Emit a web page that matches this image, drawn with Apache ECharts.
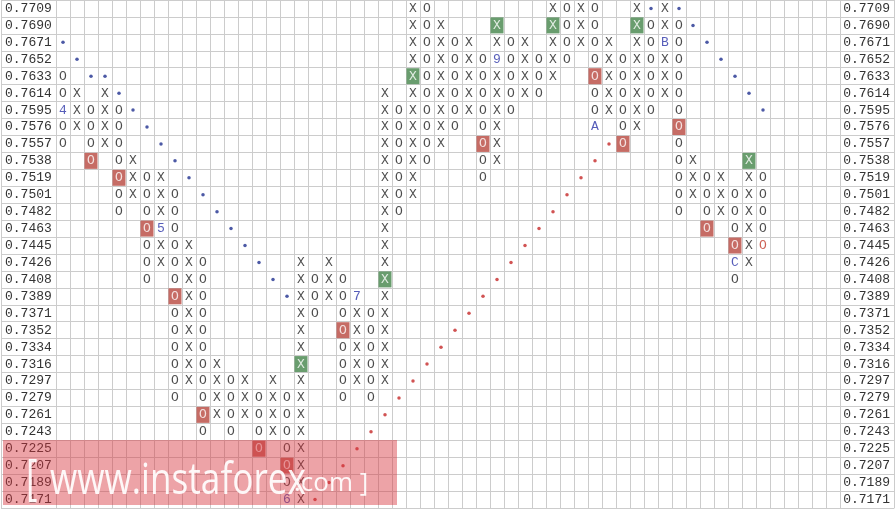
<!DOCTYPE html>
<html><head><meta charset="utf-8">
<script src="https://cdn.jsdelivr.net/npm/echarts@6/dist/echarts.min.js"></script>
<style>html,body{margin:0;padding:0;background:#fff;overflow:hidden}#c{width:895px;height:509px}</style>
</head><body><div id="c"></div>
<script>
// Price levels (tick labels), top to bottom
const prices = ['0.7709','0.7690','0.7671','0.7652','0.7633','0.7614','0.7595','0.7576','0.7557','0.7538','0.7519','0.7501','0.7482','0.7463','0.7445','0.7426','0.7408','0.7389','0.7371','0.7352','0.7334','0.7316','0.7297','0.7279','0.7261','0.7243','0.7225','0.7207','0.7189','0.7171'];
const columnCount = 56;
// Point & figure columns: kind, top price, bottom price
const colKind = ['O','X','O','X','O','X','O','X','O','X','O','X','O','X','O','X','O','X','O','X','O','X','O','X','O','X','O','X','O','X','O','X','O','X','O','X','O','X','O','X','O','X','O','X','O','X','O','X','O','X','O'];
const colTop = ['0.7633','0.7614','0.7595','0.7614','0.7595','0.7538','0.7519','0.7519','0.7501','0.7445','0.7426','0.7316','0.7297','0.7297','0.7279','0.7297','0.7279','0.7426','0.7408','0.7426','0.7408','0.7389','0.7371','0.7614','0.7595','0.7709','0.7709','0.7690','0.7671','0.7671','0.7652','0.7690','0.7671','0.7671','0.7652','0.7709','0.7709','0.7709','0.7709','0.7671','0.7652','0.7709','0.7690','0.7709','0.7690','0.7538','0.7519','0.7519','0.7501','0.7538','0.7519'];
const colBottom = ['0.7557','0.7576','0.7538','0.7557','0.7482','0.7501','0.7408','0.7426','0.7279','0.7297','0.7243','0.7261','0.7243','0.7261','0.7225','0.7243','0.7171','0.7171','0.7371','0.7389','0.7279','0.7297','0.7279','0.7297','0.7482','0.7501','0.7538','0.7557','0.7576','0.7595','0.7519','0.7538','0.7595','0.7614','0.7614','0.7633','0.7652','0.7671','0.7576','0.7595','0.7557','0.7576','0.7595','0.7614','0.7482','0.7501','0.7463','0.7482','0.7408','0.7426','0.7445'];
// Month markers [column, price, label]
const monthMarks = [[0,'0.7595','4'],[7,'0.7463','5'],[16,'0.7171','6'],[21,'0.7389','7'],[31,'0.7652','9'],[38,'0.7576','A'],[43,'0.7671','B'],[48,'0.7426','C']];
// Highlighted boxes [column, price]
const redBoxes = [[2,'0.7538'],[4,'0.7519'],[6,'0.7463'],[8,'0.7389'],[10,'0.7261'],[14,'0.7225'],[16,'0.7207'],[20,'0.7352'],[30,'0.7557'],[38,'0.7633'],[40,'0.7557'],[44,'0.7576'],[46,'0.7463'],[48,'0.7445']];
const greenBoxes = [[17,'0.7316'],[23,'0.7408'],[25,'0.7633'],[31,'0.7690'],[35,'0.7690'],[41,'0.7690'],[49,'0.7538']];
const lastBox = [[50,'0.7445']];
// Trend line dots [column, price]
const blueDots = [[0,'0.7671'],[1,'0.7652'],[2,'0.7633'],[3,'0.7633'],[4,'0.7614'],[5,'0.7595'],[6,'0.7576'],[7,'0.7557'],[8,'0.7538'],[9,'0.7519'],[10,'0.7501'],[11,'0.7482'],[12,'0.7463'],[13,'0.7445'],[14,'0.7426'],[15,'0.7408'],[16,'0.7389'],[42,'0.7709'],[44,'0.7709'],[45,'0.7690'],[46,'0.7671'],[47,'0.7652'],[48,'0.7633'],[49,'0.7614'],[50,'0.7595']];
const redDots = [[39,'0.7557'],[38,'0.7538'],[37,'0.7519'],[36,'0.7501'],[35,'0.7482'],[34,'0.7463'],[33,'0.7445'],[32,'0.7426'],[31,'0.7408'],[30,'0.7389'],[29,'0.7371'],[28,'0.7352'],[27,'0.7334'],[26,'0.7316'],[25,'0.7297'],[24,'0.7279'],[23,'0.7261'],[22,'0.7243'],[21,'0.7225'],[20,'0.7207'],[19,'0.7189'],[18,'0.7171']];

const rowOf = p => prices.indexOf(p);
const key = (c, p) => c + '_' + p;
const special = new Set();
[...monthMarks, ...redBoxes, ...greenBoxes, ...lastBox].forEach(d => special.add(key(d[0], d[1])));
const plain = [];
colKind.forEach((k, c) => {
  for (let r = rowOf(colTop[c]); r <= rowOf(colBottom[c]); r++) {
    if (!special.has(key(c, prices[r]))) plain.push([c, r, k]);
  }
});
const kindAt = (c) => colKind[c];

const FONT = 'Liberation Mono';
const SYM_FONT = 'Liberation Mono';
const gridColor = '#cccccc';
const cats = Array.from({length: columnCount}, (_, i) => String(i));

function textSeries(data, color, extra) {
  return Object.assign({
    type: 'scatter', xAxisIndex: 0, yAxisIndex: 0,
    data: data, symbol: 'rect', symbolSize: 1,
    itemStyle: {color: 'rgba(0,0,0,0)'},
    label: {show: true, position: 'inside', formatter: p => p.value[2], color: color,
      fontFamily: SYM_FONT, fontSize: 13},
    silent: true, animation: false, z: 3
  }, extra || {});
}

const chart = echarts.init(document.getElementById('c'), null, {renderer: 'canvas'});
chart.setOption({
  animation: false,
  backgroundColor: '#ffffff',
  grid: [
    {left: 56, right: 55, top: -2, bottom: 1},
    {left: 1, width: 55, top: -2, bottom: 1},
    {left: 840, width: 54, top: -2, bottom: 1}
  ],
  xAxis: [
    {type: 'category', gridIndex: 0, data: cats, boundaryGap: true,
      axisLine: {show: false}, axisTick: {show: false}, axisLabel: {show: false},
      splitLine: {show: true, interval: 0, lineStyle: {color: gridColor, width: 1}}},
    {type: 'category', gridIndex: 1, data: ['a'], show: false},
    {type: 'category', gridIndex: 2, data: ['a'], show: false}
  ],
  yAxis: [
    {type: 'category', gridIndex: 0, data: prices, inverse: true, boundaryGap: true,
      axisLine: {show: false}, axisTick: {show: false}, axisLabel: {show: false},
      splitLine: {show: true, interval: 0, lineStyle: {color: gridColor, width: 1}}},
    {type: 'category', gridIndex: 1, data: prices, inverse: true, position: 'left',
      axisLine: {show: true, onZero: false, lineStyle: {color: gridColor}}, axisTick: {show: false},
      axisLabel: {inside: true, margin: 4, interval: 0, fontFamily: FONT, fontSize: 13, color: '#333'},
      splitLine: {show: true, interval: 0, lineStyle: {color: gridColor, width: 1}}},
    {type: 'category', gridIndex: 2, data: prices, inverse: true, position: 'right',
      axisLine: {show: true, onZero: false, lineStyle: {color: gridColor}}, axisTick: {show: false},
      axisLabel: {inside: true, margin: 4, interval: 0, fontFamily: FONT, fontSize: 13, color: '#333'},
      splitLine: {show: true, interval: 0, lineStyle: {color: gridColor, width: 1}}}
  ],
  series: [
    textSeries(plain, '#1e1e1e'),
    textSeries(monthMarks.map(d => [d[0], rowOf(d[1]), d[2]]), '#2c35a8'),
    textSeries(lastBox.map(d => [d[0], rowOf(d[1]), kindAt(d[0])]), '#c0392b'),
    textSeries(redBoxes.map(d => [d[0], rowOf(d[1]), kindAt(d[0])]), '#ffffff',
      {symbolSize: [13, 16], itemStyle: {color: '#b8473f'}}),
    textSeries(greenBoxes.map(d => [d[0], rowOf(d[1]), kindAt(d[0])]), '#ffffff',
      {symbolSize: [13, 16], itemStyle: {color: '#44854a'}}),
    {type: 'scatter', data: blueDots.map(d => [d[0], rowOf(d[1])]), symbol: 'circle', symbolSize: 3.5,
      itemStyle: {color: '#1f2f8f'}, silent: true, z: 3},
    {type: 'scatter', data: redDots.map(d => [d[0], rowOf(d[1])]), symbol: 'circle', symbolSize: 3.5,
      itemStyle: {color: '#c62828'}, silent: true, z: 3}
  ],
  graphic: [
    {type: 'rect', shape: {x: 3, y: 440, width: 394, height: 65}, style: {fill: 'rgba(215,50,60,0.45)'}, z: 100, silent: true},
    {type: 'text', x: 26, y: 505, scaleX: 0.7, z: 101, silent: true,
      style: {text: '[', fill: 'rgba(255,255,255,0.92)', font: '50px "Open Sans"', verticalAlign: 'bottom'}},
    {type: 'text', x: 50, y: 503, scaleX: 0.8, z: 101, silent: true,
      style: {text: 'www.instaforex', fill: 'rgba(255,255,255,0.92)', font: '44px "Open Sans"', verticalAlign: 'bottom'}},
    {type: 'text', x: 294, y: 497, z: 101, silent: true,
      style: {text: '.com ]', fill: 'rgba(255,255,255,0.92)', font: '26px "Open Sans"', verticalAlign: 'bottom'}}
  ]
});
</script></body></html>
